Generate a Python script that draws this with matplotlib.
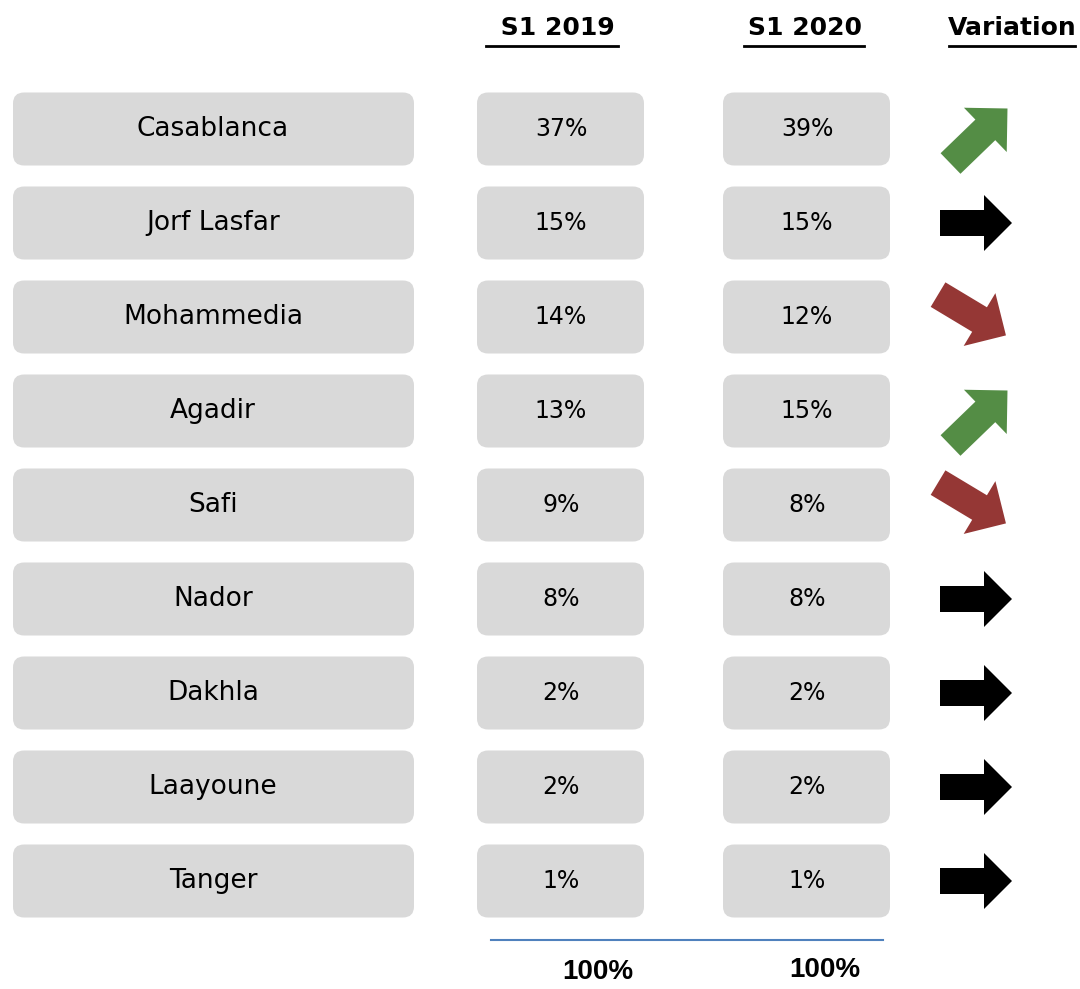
import numpy as np
import matplotlib

matplotlib.use("Agg")
import matplotlib.pyplot as plt  # noqa: E402
from matplotlib.patches import FancyBboxPatch, Polygon  # noqa: E402

ports = ["Casablanca", "Jorf Lasfar", "Mohammedia", "Agadir", "Safi",
         "Nador", "Dakhla", "Laayoune", "Tanger"]
share_2019 = [37, 15, 14, 13, 9, 8, 2, 2, 1]
share_2020 = [39, 15, 12, 15, 8, 8, 2, 2, 1]
headers = [" S1 2019", "S1 2020", "Variation"]
totals = ["100%", "100%"]

BOX = "#D9D9D9"
UP = "#548D45"
DOWN = "#953735"
FLAT = "#000000"

fig = plt.figure(figsize=(10.8, 9.89), dpi=100)
ax = fig.add_axes([0, 0, 1, 1])
ax.set_xlim(0, 1080)
ax.set_ylim(989, 0)
ax.axis("off")


def box(x0, x1, yc, h=73):
    ax.add_patch(FancyBboxPatch((x0, yc - h / 2), x1 - x0, h,
                                boxstyle="round,pad=0,rounding_size=11",
                                facecolor=BOX, edgecolor="none"))


def arrow(xc, yc, angle, color, scale=1.0):
    # arrow outline pointing along +x, centred on origin; angle is
    # counter-clockwise on screen (y axis points down)
    pts = np.array([(0, -13), (44, -13), (44, -28), (72, 0),
                    (44, 28), (44, 13), (0, 13)], dtype=float)
    pts[:, 0] -= 36
    pts *= scale
    a = np.deg2rad(-angle)
    rot = np.array([[np.cos(a), np.sin(a)], [-np.sin(a), np.cos(a)]])
    pts = pts @ rot
    pts[:, 0] += xc
    pts[:, 1] += yc
    ax.add_patch(Polygon(pts, closed=True, facecolor=color, edgecolor="none"))


row0, pitch = 129, 94
for i, (name, a, b) in enumerate(zip(ports, share_2019, share_2020)):
    yc = row0 + i * pitch
    box(13, 414, yc)
    box(477, 644, yc)
    box(723, 890, yc)
    ax.text(213, yc, name, ha="center", va="center", fontsize=19,
            family="DejaVu Sans")
    ax.text(561, yc, f"{a}%", ha="center", va="center", fontsize=17)
    ax.text(807, yc, f"{b}%", ha="center", va="center", fontsize=17)
    if b > a:
        arrow(979, yc + 7, 44, UP, 1.1)
    elif b < a:
        arrow(972, yc - 2, -31, DOWN, 1.1)
    else:
        arrow(976, yc, 0, FLAT)

# column headers, bold and underlined
for x, label, (u0, u1) in zip([553, 805, 1012], headers,
                              [(486, 618), (744, 864), (949, 1075)]):
    ax.text(x, 28, label, ha="center", va="center", fontsize=18,
            fontweight="bold", family="DejaVu Sans")
    ax.plot([u0, u1], [46, 46], color="black", linewidth=2)

ax.plot([491, 883], [940, 940], color="#4F81BD", linewidth=1.5)
ax.text(598, 972, totals[0], ha="center", va="center", fontsize=20,
        fontweight="bold", family="Liberation Sans")
ax.text(825, 970, totals[1], ha="center", va="center", fontsize=20,
        fontweight="bold", family="Liberation Sans")

fig.savefig("out.png", dpi=100)
